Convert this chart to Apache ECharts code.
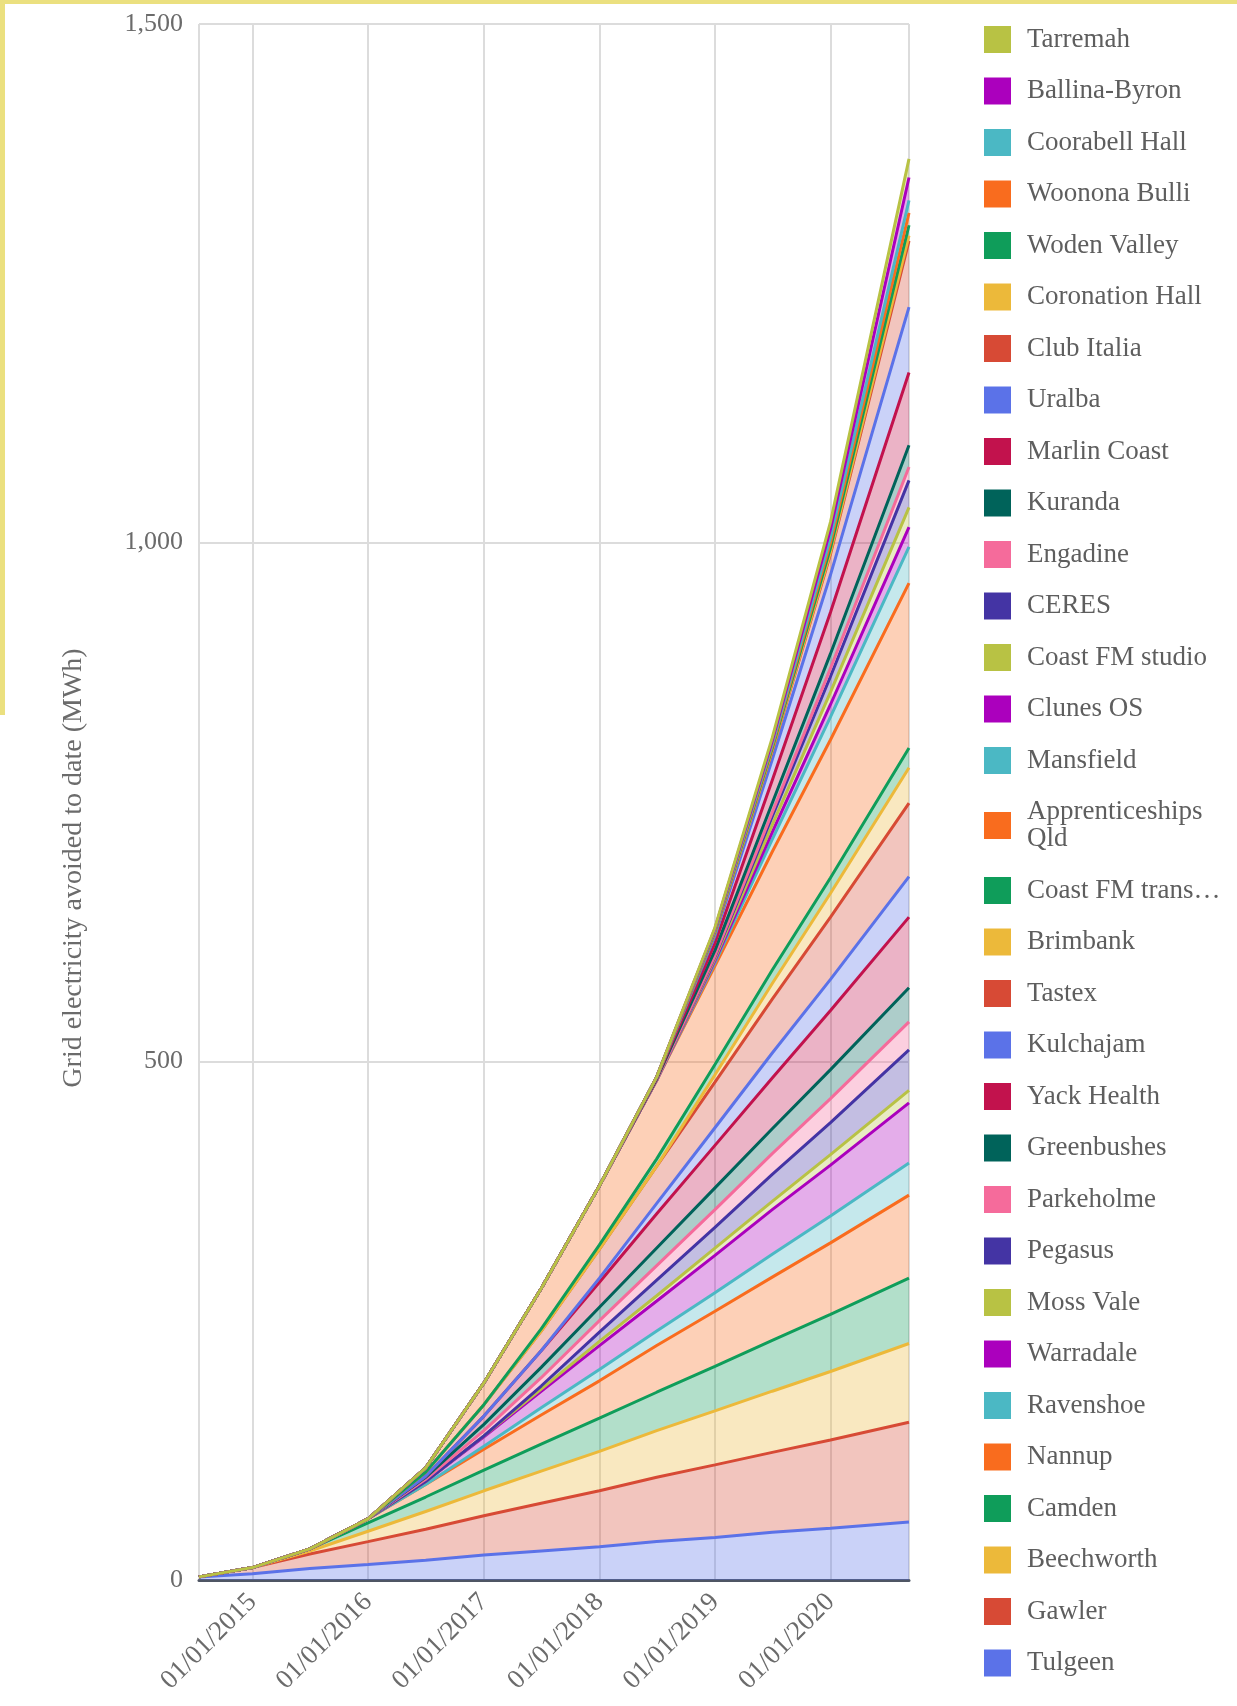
<!DOCTYPE html>
<html>
<head>
<meta charset="utf-8">
<title>Grid electricity avoided to date</title>
<script src="https://cdn.jsdelivr.net/npm/echarts@6/dist/echarts.min.js"></script>
<style>
html, body { margin: 0; padding: 0; background: #fff; }
#chart { width: 1237px; height: 1706px; }
</style>
</head>
<body>
<div id="chart"></div>
<script>
// sample dates (x) shared by every series
const dates = ['2014-07-16', '2015-01-01', '2015-07-01', '2016-01-01', '2016-07-01', '2017-01-01',
  '2017-07-01', '2018-01-01', '2018-07-01', '2019-01-01', '2019-07-01', '2020-01-01', '2020-09-05'];

// MWh avoided per site, stacked bottom -> top
const tulgeen         = [3, 6, 11, 15, 19, 24, 28, 32, 37, 41, 46, 50, 56];
const gawler          = [0, 6, 14, 22, 30, 38, 46, 54, 62, 70, 77, 85, 96];
const beechworth      = [0, 0, 3, 10, 17, 24, 31, 38, 45, 52, 59, 66, 76];
const camden          = [0, 0, 2, 8, 14, 20, 26, 32, 37, 43, 49, 55, 63];
const nannup          = [0, 0, 0, 4, 12, 20, 28, 36, 45, 53, 61, 69, 80];
const ravenshoe       = [0, 0, 0, 0, 0, 3, 7, 11, 14, 18, 22, 26, 31];
const warradale       = [0, 0, 0, 0, 3, 9, 16, 23, 29, 36, 43, 49, 58];
const mossVale        = [0, 0, 0, 0, 0, 1, 2, 4, 5, 7, 8, 10, 12];
const pegasus         = [0, 0, 0, 0, 0, 0, 3, 9, 15, 20, 26, 31, 39];
const parkeholme      = [0, 0, 0, 0, 2, 5, 8, 11, 14, 17, 20, 23, 27];
const greenbushes     = [0, 0, 0, 0, 2, 6, 10, 13, 17, 21, 24, 28, 33];
const yackHealth      = [0, 0, 0, 0, 1, 8, 16, 24, 33, 41, 49, 57, 68];
const kulchajam       = [0, 0, 0, 0, 0, 0, 0, 4, 10, 17, 24, 30, 39];
const tastex          = [0, 0, 0, 0, 4, 11, 19, 28, 36, 44, 52, 60, 71];
const brimbank        = [0, 0, 0, 0, 0, 0, 0, 0, 0, 7, 15, 23, 34];
const coastFmTrans    = [0, 0, 0, 0, 0, 0, 2, 4, 7, 10, 13, 15, 19];
const apprenticeships = [0, 0, 0, 0, 4, 21, 39, 57, 76, 95, 114, 133, 159];
const mansfield       = [0, 0, 0, 0, 0, 0, 0, 0, 0, 3, 12, 22, 35];
const clunes          = [0, 0, 0, 0, 0, 0, 0, 0, 0, 2, 7, 12, 19];
const coastFmStudio   = [0, 0, 0, 0, 0, 0, 0, 0, 0, 2, 7, 12, 19];
const ceres           = [0, 0, 0, 0, 0, 0, 0, 0, 0, 2, 8, 15, 26];
const engadine        = [0, 0, 0, 0, 0, 0, 0, 0, 0, 1, 4, 8, 13];
const kuranda         = [0, 0, 0, 0, 0, 0, 0, 0, 1, 5, 9, 14, 21];
const marlinCoast     = [0, 0, 0, 0, 0, 0, 0, 0, 1, 7, 22, 40, 70];
const uralba          = [0, 0, 0, 0, 0, 0, 0, 0, 1, 7, 20, 36, 63];
const clubItalia      = [0, 0, 0, 0, 0, 0, 0, 0, 0, 3, 8, 20, 64];
const coronationHall  = [0, 0, 0, 0, 0, 0, 0, 0, 0, 0, 1, 2, 5];
const wodenValley     = [0, 0, 0, 0, 0, 0, 0, 0, 0, 1, 2, 4, 10];
const woononaBulli    = [0, 0, 0, 0, 0, 0, 0, 0, 0, 1, 2, 5, 12];
const coorabellHall   = [0, 0, 0, 0, 0, 0, 0, 0, 0, 1, 2, 5, 12];
const ballinaByron    = [0, 0, 0, 0, 0, 0, 0, 0, 0, 1, 3, 8, 22];
const tarremah        = [0, 0, 0, 0, 0, 0, 0, 0, 0, 1, 3, 7, 18];

const siteNames = ['Tulgeen', 'Gawler', 'Beechworth', 'Camden', 'Nannup', 'Ravenshoe', 'Warradale',
  'Moss Vale', 'Pegasus', 'Parkeholme', 'Greenbushes', 'Yack Health', 'Kulchajam', 'Tastex', 'Brimbank',
  'Coast FM trans…', 'Apprenticeships Qld', 'Mansfield', 'Clunes OS', 'Coast FM studio', 'CERES',
  'Engadine', 'Kuranda', 'Marlin Coast', 'Uralba', 'Club Italia', 'Coronation Hall', 'Woden Valley',
  'Woonona Bulli', 'Coorabell Hall', 'Ballina-Byron', 'Tarremah'];
const siteValues = [tulgeen, gawler, beechworth, camden, nannup, ravenshoe, warradale, mossVale, pegasus,
  parkeholme, greenbushes, yackHealth, kulchajam, tastex, brimbank, coastFmTrans, apprenticeships,
  mansfield, clunes, coastFmStudio, ceres, engadine, kuranda, marlinCoast, uralba, clubItalia,
  coronationHall, wodenValley, woononaBulli, coorabellHall, ballinaByron, tarremah];

const yTicks = [0, 500, 1000, 1500];

const palette = ['#5b72e8', '#d74a35', '#ecb93a', '#0f9d5a', '#f96c1e', '#4bb8c4',
  '#ab00bd', '#b8c244', '#4434a4', '#f56b9b', '#00635a', '#c2124d'];

const serif = '"Liberation Serif", "DejaVu Serif", serif';
const DAY = 24 * 3600 * 1000;

const chart = echarts.init(document.getElementById('chart'));

const series = siteNames.map(function (name, i) {
  const c = palette[i % palette.length];
  return {
    name: name,
    type: 'line',
    stack: 'total',
    symbol: 'none',
    color: c,
    lineStyle: { width: 3, color: c },
    areaStyle: { color: c, opacity: 0.32 },
    data: dates.map(function (d, k) { return [d, siteValues[i][k]]; })
  };
});

const option = {
  backgroundColor: '#fff',
  animation: false,
  color: palette,
  grid: { left: 199, right: 328, top: 24, bottom: 126 },
  xAxis: {
    type: 'time',
    min: '2014-07-16',
    max: '2020-09-05',
    minInterval: 365 * DAY,
    maxInterval: 366 * DAY,
    axisLine: { show: true, lineStyle: { color: '#4f5664', width: 3 } },
    axisTick: { show: false },
    splitLine: { show: true, lineStyle: { color: '#dcdcdc', width: 2 } },
    axisLabel: {
      rotate: 45,
      margin: 18,
      color: '#6b6b6b',
      fontFamily: serif,
      fontSize: 27,
      formatter: function (v) {
        return '01/01/' + new Date(v).getFullYear();
      }
    }
  },
  yAxis: {
    type: 'value',
    min: yTicks[0],
    max: yTicks[yTicks.length - 1],
    interval: 500,
    axisLine: { show: false },
    axisTick: { show: false },
    splitLine: { lineStyle: { color: '#dcdcdc', width: 2 } },
    axisLabel: {
      margin: 16,
      color: '#6b6b6b',
      fontFamily: serif,
      fontSize: 26,
      formatter: function (v) { return v.toLocaleString('en-US'); }
    }
  },
  legend: {
    orient: 'vertical',
    left: 979,
    top: 21,
    icon: 'rect',
    itemWidth: 27,
    itemHeight: 27,
    itemGap: 24.5,
    data: siteNames.slice().reverse(),
    formatter: function (name) {
      return name === 'Apprenticeships Qld' ? 'Apprenticeships\nQld' : name;
    },
    textStyle: {
      color: '#5e5e5e',
      fontFamily: serif,
      fontSize: 27,
      lineHeight: 27,
      padding: [0, 0, 0, 11]
    }
  },
  graphic: [
    { type: 'rect', left: 0, top: 0, shape: { width: 1237, height: 4 }, style: { fill: '#ebe07f' } },
    { type: 'rect', left: 0, top: 0, shape: { width: 5, height: 715 }, style: { fill: '#ebe07f' } },
    {
      type: 'text',
      x: 74,
      y: 868,
      rotation: Math.PI / 2,
      style: {
        text: 'Grid electricity avoided to date (MWh)',
        fill: '#6b6b6b',
        font: '28px ' + serif,
        textAlign: 'center',
        textVerticalAlign: 'middle'
      }
    }
  ],
  series: series
};

chart.setOption(option);
</script>
</body>
</html>
